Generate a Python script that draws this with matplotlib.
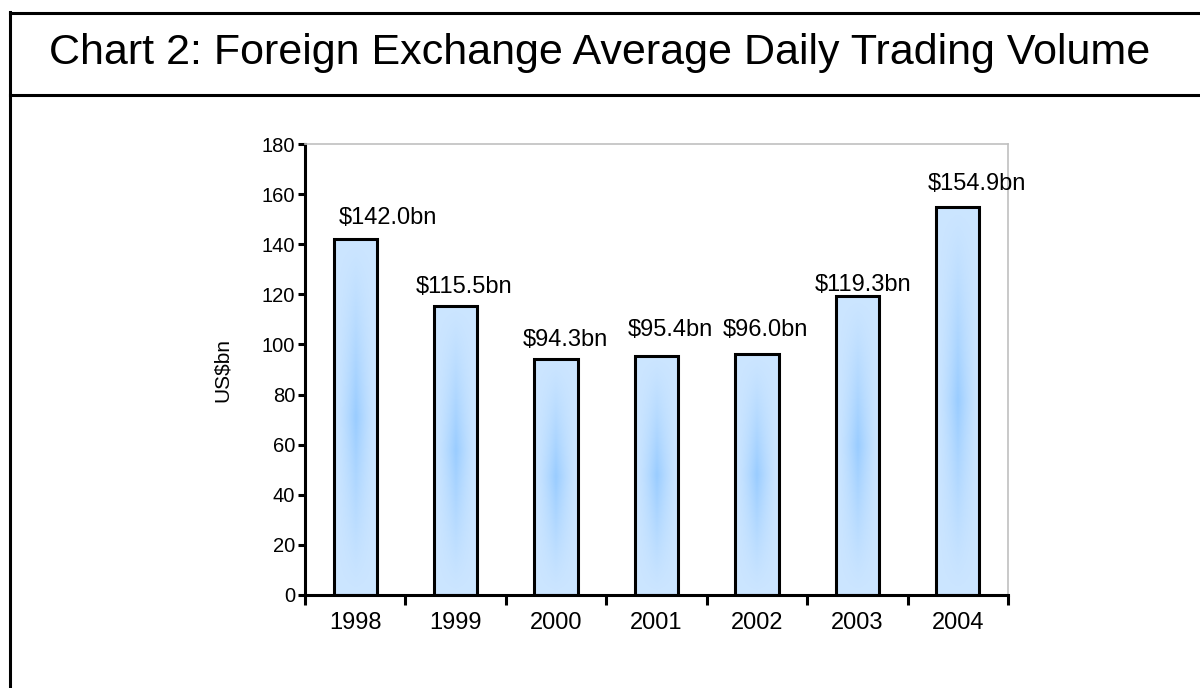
import numpy as np
import matplotlib
matplotlib.use("Agg")
import matplotlib.pyplot as plt
from matplotlib.patches import Rectangle
from matplotlib.lines import Line2D

years = ["1998", "1999", "2000", "2001", "2002", "2003", "2004"]
volumes = [142.0, 115.5, 94.3, 95.4, 96.0, 119.3, 154.9]
labels = ["$142.0bn", "$115.5bn", "$94.3bn", "$95.4bn", "$96.0bn", "$119.3bn", "$154.9bn"]
yticks = [0, 20, 40, 60, 80, 100, 120, 140, 160, 180]

# label offsets in pixels (dx, dy) from bar top centre
label_dx = [33, 8, 9, 14, 8, 6, 19]
label_dy = [21, 19, 19, 26, 24, 11, 23]

plt.rcParams['font.family'] = ['Liberation Sans', 'DejaVu Sans']

W, H = 1200, 688
fig = plt.figure(figsize=(W / 100, H / 100), dpi=100)
fig.patch.set_facecolor('white')

def fx(px):
    return px / W
def fy(py):
    return 1 - py / H

# frame lines
fig.add_artist(Line2D([fx(10), 1.0], [fy(12.5), fy(12.5)], color='black', lw=2.2))
fig.add_artist(Line2D([fx(10), 1.0], [fy(95), fy(95)], color='black', lw=2.2))
fig.add_artist(Line2D([fx(10), fx(10)], [fy(11.5), 0], color='black', lw=2.2))

fig.text(0.5, fy(53), "Chart 2: Foreign Exchange Average Daily Trading Volume",
         ha='center', va='center', fontsize=31, color='black')

ax = fig.add_axes([fx(305), fy(595), fx(1008) - fx(305), fy(144) - fy(595)])
n = len(years)
x = np.arange(n)

# gradient image
ny, nx = 200, 60
u = np.linspace(-1, 1, nx)
v = np.linspace(-1, 1, ny)
U, V = np.meshgrid(u, v)
t = (1 - np.abs(U)) ** 1.5 * (1 - np.abs(V)) ** 1.2
edge = np.array([0.80, 0.90, 1.0])
centre = np.array([0.60, 0.80, 1.0])
img = edge[None, None, :] * (1 - t[..., None]) + centre[None, None, :] * t[..., None]

bw = 0.43
for xi, val in zip(x, volumes):
    rect = Rectangle((xi - bw / 2, 0), bw, val, facecolor='none', edgecolor='black',
                     lw=2.2, zorder=3)
    ax.add_patch(rect)
    im = ax.imshow(img, extent=[xi - bw / 2, xi + bw / 2, 0, val], aspect='auto',
                   origin='lower', zorder=2, interpolation='bilinear')
    im.set_clip_path(rect)

for xi, val, lab, dx, dy in zip(x, volumes, labels, label_dx, label_dy):
    ax.annotate(lab, (xi, val), xytext=(dx * 0.72, dy * 0.72), textcoords='offset points',
                ha='center', va='center', fontsize=17, color='black', zorder=4)

ax.set_aspect('auto')
ax.set_xlim(-0.5, n - 0.5)
ax.set_ylim(0, 180)

ax.set_yticks(yticks)
ax.set_yticklabels([str(v) for v in yticks], fontsize=14.5)
ax.set_xticks(x)
ax.set_xticklabels(years, fontsize=17)
ax.tick_params(axis='x', length=0, pad=12)
ax.set_xticks(np.arange(-0.5, n, 1.0), minor=True)
ax.tick_params(axis='x', which='minor', length=7, width=2.2, direction='out')
ax.tick_params(axis='y', length=5, width=2.2, direction='out', pad=2)

for s in ['left', 'bottom']:
    ax.spines[s].set_linewidth(2.2)
    ax.spines[s].set_color('black')
for s in ['top', 'right']:
    ax.spines[s].set_linewidth(1.2)
    ax.spines[s].set_color('#c0c0c0')

ax.set_ylabel("US$bn", fontsize=15)
ax.yaxis.set_label_coords((232 - 305) / 703, 0.5)

fig.savefig("out.png", dpi=100, facecolor='white')
